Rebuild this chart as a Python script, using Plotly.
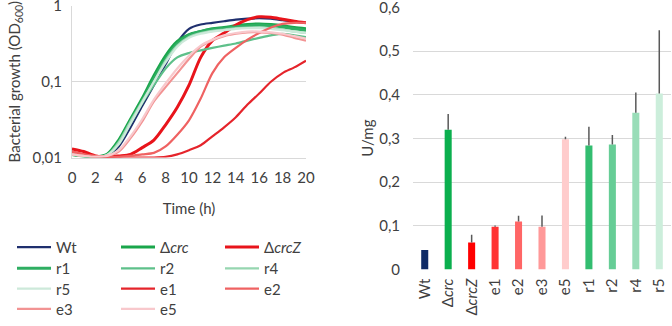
import plotly.graph_objects as go

# ---------------- data ----------------
time_h = list(range(0, 21))

wt     = [0.011, 0.0105, 0.010, 0.0105, 0.014, 0.025, 0.048, 0.09, 0.17, 0.33, 0.50, 0.57, 0.60, 0.63, 0.66, 0.68, 0.69, 0.68, 0.65, 0.62, 0.60]
d_crc  = [0.011, 0.0105, 0.0102, 0.011, 0.017, 0.032, 0.06, 0.12, 0.22, 0.34, 0.42, 0.46, 0.50, 0.52, 0.55, 0.57, 0.58, 0.57, 0.55, 0.52, 0.50]
d_crcz = [0.013, 0.012, 0.0105, 0.0102, 0.0105, 0.011, 0.0135, 0.017, 0.027, 0.046, 0.09, 0.21, 0.35, 0.44, 0.56, 0.66, 0.72, 0.71, 0.67, 0.63, 0.60]
r1     = [0.011, 0.0105, 0.0102, 0.0108, 0.016, 0.030, 0.056, 0.11, 0.20, 0.32, 0.41, 0.46, 0.49, 0.51, 0.53, 0.55, 0.56, 0.55, 0.53, 0.50, 0.48]
r2     = [0.011, 0.0105, 0.0102, 0.0108, 0.015, 0.028, 0.052, 0.09, 0.15, 0.21, 0.24, 0.26, 0.28, 0.30, 0.32, 0.35, 0.38, 0.41, 0.43, 0.41, 0.39]
r4     = [0.011, 0.0105, 0.0102, 0.0108, 0.016, 0.030, 0.055, 0.10, 0.19, 0.30, 0.39, 0.44, 0.47, 0.49, 0.51, 0.52, 0.52, 0.51, 0.49, 0.46, 0.44]
r5     = [0.011, 0.0105, 0.0102, 0.0108, 0.015, 0.028, 0.053, 0.10, 0.18, 0.29, 0.38, 0.43, 0.46, 0.48, 0.50, 0.51, 0.51, 0.50, 0.48, 0.46, 0.44]
e1     = [0.012, 0.011, 0.0102, 0.010, 0.010, 0.010, 0.010, 0.010, 0.0102, 0.011, 0.0125, 0.0145, 0.019, 0.025, 0.034, 0.050, 0.070, 0.10, 0.13, 0.155, 0.19]
e2     = [0.012, 0.011, 0.0105, 0.0102, 0.0102, 0.0105, 0.011, 0.0115, 0.014, 0.020, 0.031, 0.06, 0.13, 0.21, 0.28, 0.36, 0.44, 0.52, 0.58, 0.60, 0.60]
e3     = [0.011, 0.0105, 0.0102, 0.0105, 0.012, 0.018, 0.030, 0.055, 0.085, 0.13, 0.20, 0.29, 0.35, 0.40, 0.43, 0.45, 0.45, 0.44, 0.42, 0.38, 0.35]
e5     = [0.011, 0.0105, 0.0102, 0.0105, 0.0125, 0.019, 0.032, 0.058, 0.095, 0.15, 0.22, 0.30, 0.36, 0.41, 0.44, 0.46, 0.46, 0.45, 0.43, 0.40, 0.37]

curve_names = ["Wt", "Δ<i>crc</i>", "Δ<i>crcZ</i>", "r1", "r2", "r4", "r5", "e1", "e2", "e3", "e5"]
curve_data = [wt, d_crc, d_crcz, r1, r2, r4, r5, e1, e2, e3, e5]

bar_labels = ["Wt", "Δ<i>crc</i>", "Δ<i>crcZ</i>", "e1", "e2", "e3", "e5", "r1", "r2", "r4", "r5"]
bar_values = [0.045, 0.320, 0.062, 0.098, 0.110, 0.098, 0.298, 0.284, 0.286, 0.359, 0.403]
bar_err_plus = [0.0, 0.036, 0.018, 0.003, 0.013, 0.026, 0.006, 0.043, 0.022, 0.046, 0.145]

growth_ticks = [0.01, 0.1, 1]
growth_ticktext = ["0,01", "0,1", "1"]
time_ticks = list(range(0, 21, 2))
activity_ticks = [0, 0.1, 0.2, 0.3, 0.4, 0.5, 0.6]

# ---------------- styles ----------------
colors = {
    "Wt": "#1F2F6E",
    "Δ<i>crc</i>": "#1AA64B",
    "Δ<i>crcZ</i>": "#E8141B",
    "r1": "#2EAE62",
    "r2": "#5EC08A",
    "r4": "#96D6B0",
    "r5": "#CDE9DA",
    "e1": "#E5242B",
    "e2": "#EF6262",
    "e3": "#F29393",
    "e5": "#F8C8CC",
}
bar_colors = {
    "Wt": "#0F2B66",
    "Δ<i>crc</i>": "#0BAF4E",
    "Δ<i>crcZ</i>": "#FF0000",
    "e1": "#FF3333",
    "e2": "#FF6666",
    "e3": "#FF9999",
    "e5": "#FFCCCC",
    "r1": "#33BD70",
    "r2": "#66CD96",
    "r4": "#99DDB8",
    "r5": "#CCEEDB",
}
widths = {"Δ<i>crc</i>": 3, "Δ<i>crcZ</i>": 3, "r1": 3}
legend_rows = ["legend", "legend", "legend",
               "legend2", "legend2", "legend2",
               "legend3", "legend3", "legend3",
               "legend4", "legend4"]

FONT = "Lato, Carlito, 'Open Sans', sans-serif"
TXT = "#404040"
GRID = "#D9D9D9"

fig = go.Figure()

for name, ys, lg in zip(curve_names, curve_data, legend_rows):
    fig.add_trace(go.Scatter(
        x=time_h, y=ys, mode="lines", name=name,
        line=dict(color=colors[name], width=widths.get(name, 2.2), shape="spline", smoothing=0.8),
        xaxis="x", yaxis="y", legend=lg,
    ))

fig.add_trace(go.Bar(
    x=bar_labels, y=bar_values,
    marker=dict(color=[bar_colors[b] for b in bar_labels], line=dict(width=0)),
    width=0.3,
    error_y=dict(type="data", symmetric=False, array=bar_err_plus,
                 arrayminus=[0] * len(bar_err_plus), color="#595959", thickness=1.5, width=0),
    xaxis="x2", yaxis="y2", showlegend=False,
))

W, H = 672, 326

legend_common = dict(orientation="h", xanchor="left", yanchor="middle",
                     x=12 / W, entrywidth=55, entrywidthmode="pixels",
                     font=dict(family=FONT, size=15, color=TXT),
                     bgcolor="rgba(0,0,0,0)", borderwidth=0, itemwidth=34,
                     traceorder="normal")

fig.update_layout(
    width=W, height=H,
    margin=dict(l=0, r=0, t=0, b=0),
    paper_bgcolor="white", plot_bgcolor="white",
    separators=", ",
    font=dict(family=FONT, size=15, color=TXT),
    legend=dict(**legend_common, y=1 - 256 / H),
    legend2=dict(**legend_common, y=1 - 278 / H),
    legend3=dict(**legend_common, y=1 - 299 / H),
    legend4=dict(**legend_common, y=1 - 320 / H),
    xaxis=dict(domain=[72 / W, 306 / W], range=[0, 20], tickvals=time_ticks, automargin=False,
               showgrid=False, zeroline=False, showline=True, linecolor=GRID, linewidth=1,
               ticks="", tickfont=dict(size=15), ticklabeloverflow="allow", ticklabelstandoff=6,
               title=dict(text="Time (h)", standoff=18, font=dict(size=15))),
    yaxis=dict(domain=[1 - 163 / H, 1 - 6 / H], type="log", range=[-2, 0.003], automargin=False,
               tickvals=growth_ticks, ticktext=growth_ticktext,
               showgrid=True, gridcolor=GRID, zeroline=False,
               showline=True, linecolor=GRID, linewidth=1, ticks="",
               tickfont=dict(size=15), ticklabeloverflow="allow", ticklabelstandoff=6,
               title=dict(text="Bacterial growth (OD<sub>600</sub>)", standoff=8, font=dict(size=15))),
    xaxis2=dict(domain=[413 / W, 671 / W], showgrid=False, zeroline=False, automargin=False,
                showline=False, ticks="", tickangle=-90, tickfont=dict(size=15),
                ticklabeloverflow="allow", ticklabelstandoff=5, anchor="y2"),
    yaxis2=dict(domain=[1 - 279 / H, 1 - 7 / H], range=[0, 0.6015], tickvals=activity_ticks,
                automargin=False,
                showgrid=True, gridcolor=GRID, zeroline=False, showline=False,
                ticks="", tickfont=dict(size=15), ticklabeloverflow="allow", ticklabelstandoff=12,
                title=dict(text="U/mg", standoff=1, font=dict(size=15)),
                anchor="x2"),
)

fig.write_html("out.html",
               config={"displayModeBar": False},
               post_script="document.body.style.margin='0';document.body.style.overflow='hidden';")
